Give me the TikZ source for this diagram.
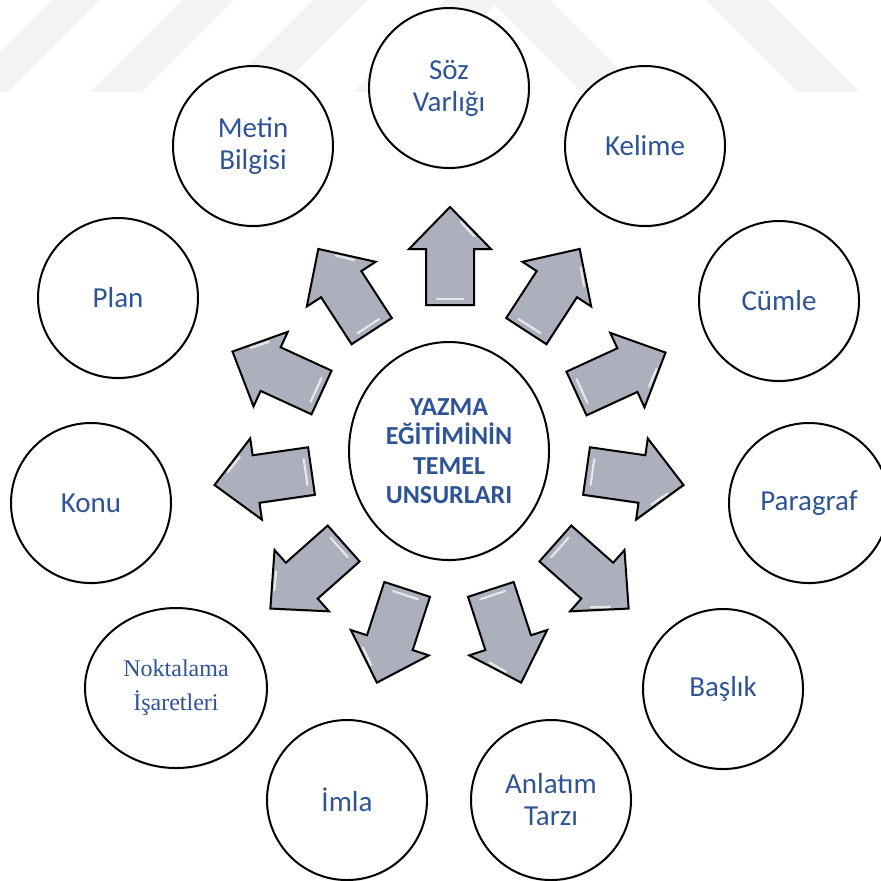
\documentclass[tikz,border=0pt]{standalone}
\usepackage{fontspec}
\setmainfont{Carlito}
\newfontfamily\tnrfont{Liberation Serif}
\usetikzlibrary{shapes.geometric,shadows}
\definecolor{txtblue}{HTML}{2F5496}
\definecolor{arrowfill}{HTML}{ABB0BC}
\definecolor{wmark}{HTML}{F3F3F3}
\begin{document}
\begin{tikzpicture}[x=0.5pt,y=-0.5pt,
  softshadow/.style={drop shadow={shadow xshift=0.3pt, shadow yshift=-0.8pt, opacity=0.1, fill=black}},
  bubble/.style={circle, draw=black, line width=1pt, fill=white, minimum size=80pt,
    inner sep=0pt, align=center, text=txtblue, font=\fontsize{14.5}{16}\selectfont, softshadow},
  hub/.style={ellipse, draw=black, line width=1pt, fill=white, minimum width=100pt,
    minimum height=109pt, inner sep=0pt, align=center, text=txtblue,
    font=\bfseries\fontsize{13}{14.7}\selectfont, softshadow},
  blockarrow/.style={draw=black, line width=1pt, fill=arrowfill, softshadow},
  glint/.style={white, line width=1.1pt, opacity=0.7, line cap=round},
  barrow/.pic={
    \draw[blockarrow] (-49,-24) -- (7,-24) -- (7,-41) -- (49,0) -- (7,41) -- (7,24) -- (-49,24) -- cycle;
    \draw[glint] (-43,-13) -- (-43,13);
    \draw[glint] (20,24) -- (34,11);
  }
]
\useasboundingbox (0,0) rectangle (881,880);
% faint watermark stripes
\begin{scope}
  \clip (0,0) rectangle (881,92);
  \foreach \a/\w in {52/48, 182/52, 313/55, 445/55}
    \fill[wmark] (\a,0) -- (\a+\w,0) -- (\a+\w-92,92) -- (\a-92,92) -- cycle;
  \foreach \b/\w in {490/60, 706/62}
    \fill[wmark] (\b,0) -- (\b+\w,0) -- (\b+\w+92,92) -- (\b+92,92) -- cycle;
\end{scope}

% arrows
\pic[rotate=90]     (arS) at (450,256)   {barrow};
\pic[rotate=57]     (arK) at (553,290)   {barrow};
\pic[rotate=24.7]   (arC) at (621,373)   {barrow};
\pic[rotate=-8.2]   (arP) at (635,478)   {barrow};
\pic[rotate=-41.6]  (arB) at (592,576)   {barrow};
\pic[rotate=-72]    (arA) at (506,636)   {barrow};
\pic[rotate=-108]   (arI) at (392,636)   {barrow};
\pic[rotate=-138.4] (arN) at (307,576)   {barrow};
\pic[rotate=188.2]  (arKo) at (263,478)  {barrow};
\pic[rotate=155.3]  (arPl) at (277,372)  {barrow};
\pic[rotate=123]    (arM) at (345,290)   {barrow};

% centre
\node[hub] (hub) at (449,451) {YAZMA\\EĞİTİMİNİN\\TEMEL\\UNSURLARI};

% outer circles
\node[bubble] (soz)   at (449,88)  {Söz\\Varlığı};
\node[bubble] (kel)   at (645,146) {Kelime};
\node[bubble] (cum)   at (779,301) {Cümle};
\node[bubble] (par)   at (809,503) {Paragraf};
\node[bubble] (bas)   at (723,689) {Başlık};
\node[bubble] (anl)   at (551,800) {Anlatım\\Tarzı};
\node[bubble] (iml)   at (347,800) {İmla};
\node[bubble, ellipse, minimum width=91pt, minimum height=80pt,
      font=\tnrfont\fontsize{12}{17}\selectfont] (nok) at (176,688) {Noktalama\\İşaretleri};
\node[bubble] (konu)  at (91,503)  {Konu};
\node[bubble] (plan)  at (118,298) {Plan};
\node[bubble] (met)   at (253,146) {Metin\\Bilgisi};
\end{tikzpicture}
\end{document}
